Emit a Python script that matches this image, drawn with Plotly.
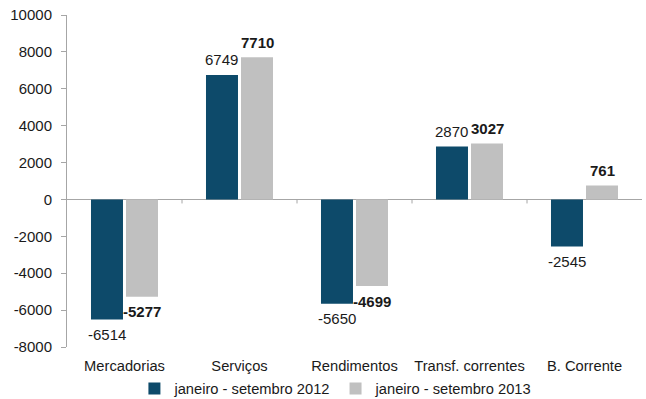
import plotly.graph_objects as go

# Balança corrente: saldos acumulados por componente
categories = ["Mercadorias", "Serviços", "Rendimentos", "Transf. correntes", "B. Corrente"]
values_2012 = [-6514, 6749, -5650, 2870, -2545]
values_2013 = [-5277, 7710, -4699, 3027, 761]
series_names = ["janeiro - setembro 2012", "janeiro - setembro 2013"]
y_ticks = [10000, 8000, 6000, 4000, 2000, 0, -2000, -4000, -6000, -8000]

COLOR_2012 = "#0D4A6A"
COLOR_2013 = "#C0C0C0"
AXIS_GRAY = "#A6A6A6"
FONT = "Liberation Sans, Arial, sans-serif"
TEXT = "#1A1A1A"

W, H = 646, 399
M = dict(l=67, r=4, t=15, b=52)
BARGAP = 0.391
GROUPGAP = 0.086

fig = go.Figure()
fig.add_trace(go.Bar(x=categories, y=values_2012, name=series_names[0],
                     marker=dict(color=COLOR_2012, line=dict(width=0))))
fig.add_trace(go.Bar(x=categories, y=values_2013, name=series_names[1],
                     marker=dict(color=COLOR_2013, line=dict(width=0))))

# value labels placed just beyond the end of each bar
plot_w = W - M["l"] - M["r"]
slot = plot_w / len(categories) * (1 - BARGAP) / 2
for vals, shift, weight in ((values_2012, -slot / 2, "normal"), (values_2013, slot / 2, "bold")):
    for cat, v in zip(categories, vals):
        fig.add_annotation(x=cat, y=v, text=str(v), showarrow=False,
                           xshift=shift, yshift=15 if v >= 0 else -15,
                           yanchor="middle", xanchor="center",
                           font=dict(family=FONT, size=15, color=TEXT, weight=weight))

# small tick marks on the zero line between categories
for i in range(len(categories) - 1):
    fig.add_shape(type="line", xref="x", yref="y", x0=i + 0.5, x1=i + 0.5,
                  ysizemode="pixel", yanchor=0, y0=0, y1=-4,
                  line=dict(color=AXIS_GRAY, width=1))

fig.update_layout(
    width=W, height=H, margin=M,
    paper_bgcolor="white", plot_bgcolor="white",
    barmode="group", bargap=BARGAP, bargroupgap=GROUPGAP,
    font=dict(family=FONT, size=14.7, color=TEXT),
    showlegend=True,
    legend=dict(orientation="h", xref="container", yref="container",
                x=0.52, xanchor="center", y=0.025, yanchor="middle",
                font=dict(size=14.7), itemwidth=30, tracegroupgap=0,
                bgcolor="rgba(0,0,0,0)"),
    xaxis=dict(type="category", categoryarray=categories, range=[-0.5, len(categories) - 0.5],
               showline=False, showgrid=False, ticks="", ticklabelstandoff=8,
               tickfont=dict(size=14.7), automargin=False),
    yaxis=dict(range=[-8000, 10000], tickvals=y_ticks, ticktext=[str(t) for t in y_ticks],
               showgrid=False, showline=True, linecolor=AXIS_GRAY, linewidth=1,
               ticks="outside", ticklen=5, tickcolor=AXIS_GRAY,
               ticklabelstandoff=6, tickfont=dict(size=15), automargin=False,
               zeroline=True, zerolinecolor=AXIS_GRAY, zerolinewidth=1),
)

fig.write_html("out.html")
